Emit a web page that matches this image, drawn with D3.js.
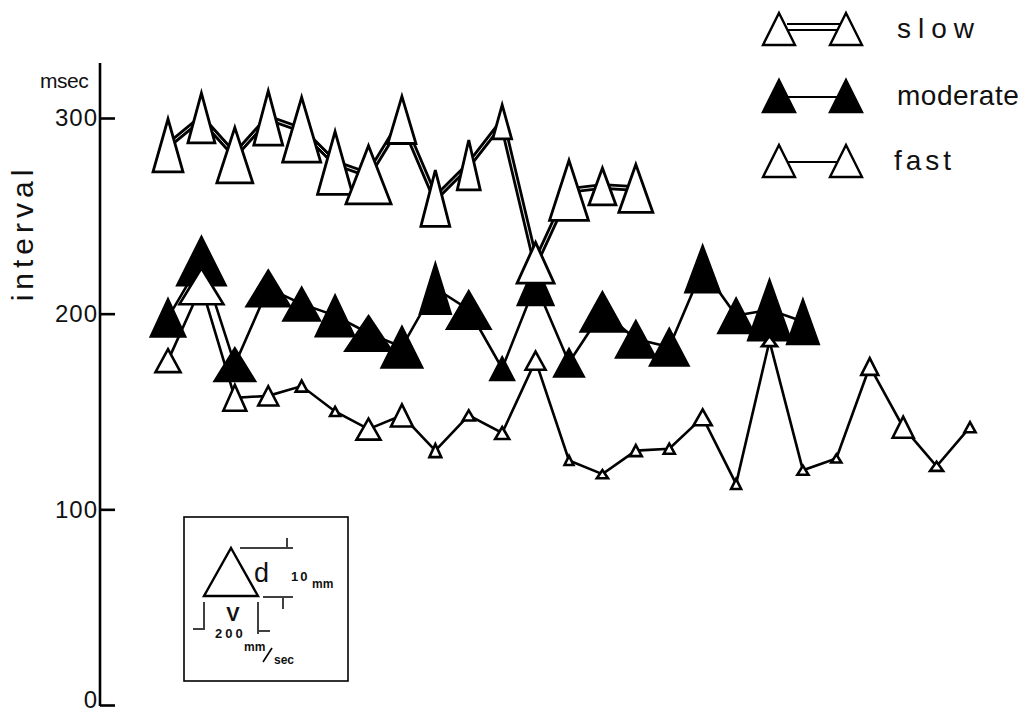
<!DOCTYPE html>
<html>
<head>
<meta charset="utf-8">
<script src="https://cdn.jsdelivr.net/npm/d3@7"></script>
<style>
  body { margin: 0; background: #fff; }
  text { font-family: "Liberation Sans", Arial, sans-serif; fill: #111; }
</style>
</head>
<body>
<script>
var w = 1031;
var h = 713;

/*
    Data. Each trial is a triangle: its centre gives the
    interval (msec), its height the depth d (mm) and its base the velocity v (mm/sec).
*/
var yTicks = [0, 100, 200, 300];

var slowInterval = [286, 300, 281, 300, 294, 277, 271, 299, 259, 276, 298, 226, 263, 265, 264];
var slowD = [11.0, 10.4, 11.5, 11.3, 13.5, 13.1, 12.1, 9.8, 11.7, 10.4, 7.1, 8.5, 12.5, 7.7, 10.0];
var slowV = [111, 100, 133, 107, 141, 130, 167, 104, 107, 85, 70, 137, 144, 100, 126];

var moderateInterval = [198, 227, 174, 213, 205, 199, 190, 183, 213, 202, 172, 215, 175, 201, 187, 183, 223, 199, 202, 196];
var moderateD = [8.1, 10.4, 7.1, 7.7, 7.1, 8.8, 7.5, 8.8, 10.8, 8.1, 5.0, 8.8, 6.0, 8.5, 7.9, 7.9, 10.0, 7.5, 12.9, 9.6];
var moderateV = [133, 185, 156, 167, 141, 148, 178, 156, 119, 167, 93, 137, 115, 167, 152, 148, 133, 137, 163, 122];

var fastInterval = [176, 214, 157, 158, 163, 150, 141, 148, 130, 148, 139, 176, 125, 118, 130, 131, 147, 113, 186, 120, 126, 173, 142, 122, 142];
var fastD = [4.8, 7.5, 5.4, 4.0, 2.3, 1.9, 4.4, 4.6, 2.7, 2.1, 2.5, 3.8, 1.9, 1.7, 2.3, 2.1, 3.3, 2.1, 2.1, 1.9, 1.7, 3.5, 4.4, 1.9, 2.1];
var fastV = [93, 163, 85, 74, 44, 37, 89, 81, 44, 44, 52, 74, 33, 41, 44, 41, 67, 37, 56, 41, 37, 63, 78, 48, 41];

var legendNames = ["slow", "moderate", "fast"];

function rows(interval, d, v) {
    return interval.map(function(val, i) {
        return {i: i, interval: val, d: d[i], v: v[i]};
    });
}
var slow = rows(slowInterval, slowD, slowV);
var moderate = rows(moderateInterval, moderateD, moderateV);
var fast = rows(fastInterval, fastD, fastV);

/* scales: trial index across, interval up; d and v set the triangle size */
var xScale = d3.scaleLinear().domain([0, 24]).range([168, 970]);
var yScale = d3.scaleLinear().domain([0, 300]).range([705, 118]);
var dScale = d3.scaleLinear().domain([0, 10]).range([0, 48]);
var vScale = d3.scaleLinear().domain([0, 200]).range([0, 54]);

function tri(cx, cy, th, tw) {
    return "M" + cx + "," + (cy - th / 2) +
        "L" + (cx + tw / 2) + "," + (cy + th / 2) +
        "L" + (cx - tw / 2) + "," + (cy + th / 2) + "Z";
}
function triOf(p) {
    return tri(xScale(p.i), yScale(p.interval), dScale(p.d), vScale(p.v));
}

var svg = d3.select("body").append("svg")
    .attr("width", w)
    .attr("height", h);

var line = d3.line()
    .x(function(p) { return xScale(p.i); })
    .y(function(p) { return yScale(p.interval); });

/* lines first, triangles on top */
svg.append("path").datum(moderate).attr("d", line)
    .attr("fill", "none").attr("stroke", "#000").attr("stroke-width", 2.6);
svg.append("path").datum(fast).attr("d", line)
    .attr("fill", "none").attr("stroke", "#000").attr("stroke-width", 2.6);
svg.append("path").datum(slow).attr("d", line)
    .attr("fill", "none").attr("stroke", "#000").attr("stroke-width", 6.5);
svg.append("path").datum(slow).attr("d", line)
    .attr("fill", "none").attr("stroke", "#fff").attr("stroke-width", 0.9);

svg.selectAll("path.mod").data(moderate).enter().append("path")
    .attr("class", "mod")
    .attr("d", triOf)
    .attr("fill", "#000")
    .attr("stroke", "#000").attr("stroke-width", 1.5);

svg.selectAll("path.fast").data(fast).enter().append("path")
    .attr("class", "fast")
    .attr("d", triOf)
    .attr("fill", "#fff")
    .attr("stroke", "#000").attr("stroke-width", 2.6);

svg.selectAll("path.slow").data(slow).enter().append("path")
    .attr("class", "slow")
    .attr("d", triOf)
    .attr("fill", "#fff")
    .attr("stroke", "#000").attr("stroke-width", 2.8);

/* y axis, ticks pointing into the plot */
var yAxis = d3.axisLeft(yScale)
    .tickValues(yTicks)
    .tickSizeInner(-15)
    .tickSizeOuter(0)
    .tickPadding(2);

var ax = svg.append("g")
    .attr("transform", "translate(100,0)")
    .call(yAxis);
ax.select(".domain").remove();
ax.selectAll(".tick line").attr("stroke", "#000").attr("stroke-width", 2.6);
ax.selectAll(".tick text")
    .style("font-family", "Liberation Sans, Arial, sans-serif")
    .style("font-size", "24px")
    .style("letter-spacing", "1px")
    .attr("fill", "#111");
// the 0 label sits at the bottom edge; lift it a little so it stays whole
ax.selectAll(".tick text").filter(function(d) { return d === 0; })
    .attr("y", -5);
ax.append("line")
    .attr("x1", 0).attr("x2", 0)
    .attr("y1", 63).attr("y2", yScale(0) + 1)
    .attr("stroke", "#000").attr("stroke-width", 2.6);

svg.append("text")
    .attr("x", 40).attr("y", 88)
    .style("font-size", "21px")
    .style("letter-spacing", "-0.5px")
    .text("msec");

svg.append("text")
    .attr("transform", "translate(33,233) rotate(-90)")
    .attr("text-anchor", "middle")
    .style("font-size", "30px")
    .style("letter-spacing", "5px")
    .text("interval");

/* legend, top right */
var legY = [29, 96, 161];
var leg = svg.append("g");
legendNames.forEach(function(name, k) {
    var y = legY[k];
    if (k === 0) {
        leg.append("line").attr("x1", 787).attr("x2", 843).attr("y1", y - 5).attr("y2", y - 5)
            .attr("stroke", "#000").attr("stroke-width", 2);
        leg.append("line").attr("x1", 787).attr("x2", 843).attr("y1", y + 1).attr("y2", y + 1)
            .attr("stroke", "#000").attr("stroke-width", 2);
    } else {
        leg.append("line").attr("x1", 787).attr("x2", 843).attr("y1", y + 1).attr("y2", y + 1)
            .attr("stroke", "#000").attr("stroke-width", 2);
    }
    [779, 846].forEach(function(cx) {
        leg.append("path")
            .attr("d", tri(cx, y, 32, 32))
            .attr("fill", k === 1 ? "#000" : "#fff")
            .attr("stroke", "#000").attr("stroke-width", 2.4);
    });
    leg.append("text")
        .attr("x", k === 2 ? 894 : 897).attr("y", y + 9)
        .style("font-size", "28px")
        .style("letter-spacing", k === 0 ? "7px" : (k === 1 ? "0.5px" : "4px"))
        .text(name);
});

/* inset key: triangle height d = 10 mm, base v = 200 mm/sec */
var key = svg.append("g");
key.append("rect")
    .attr("x", 184).attr("y", 517).attr("width", 164).attr("height", 164)
    .attr("fill", "none").attr("stroke", "#000").attr("stroke-width", 1.6);
key.append("path")
    .attr("d", tri(231, 572, dScale(10), vScale(200)))
    .attr("fill", "#fff").attr("stroke", "#000").attr("stroke-width", 2.4);
key.append("line").attr("x1", 240).attr("x2", 293).attr("y1", 548).attr("y2", 548)
    .attr("stroke", "#000").attr("stroke-width", 1.5);
key.append("line").attr("x1", 287).attr("x2", 287).attr("y1", 538).attr("y2", 547)
    .attr("stroke", "#000").attr("stroke-width", 1.5);
key.append("line").attr("x1", 263).attr("x2", 293).attr("y1", 597).attr("y2", 597)
    .attr("stroke", "#000").attr("stroke-width", 1.5);
key.append("line").attr("x1", 283).attr("x2", 283).attr("y1", 598).attr("y2", 609)
    .attr("stroke", "#000").attr("stroke-width", 1.5);
key.append("line").attr("x1", 204).attr("x2", 204).attr("y1", 602).attr("y2", 630)
    .attr("stroke", "#000").attr("stroke-width", 1.5);
key.append("line").attr("x1", 258).attr("x2", 258).attr("y1", 602).attr("y2", 634)
    .attr("stroke", "#000").attr("stroke-width", 1.5);
key.append("line").attr("x1", 193).attr("x2", 203).attr("y1", 629).attr("y2", 629)
    .attr("stroke", "#000").attr("stroke-width", 1.5);
key.append("line").attr("x1", 259).attr("x2", 270).attr("y1", 631).attr("y2", 631)
    .attr("stroke", "#000").attr("stroke-width", 1.5);
key.append("line").attr("x1", 263).attr("x2", 272).attr("y1", 662).attr("y2", 648)
    .attr("stroke", "#000").attr("stroke-width", 1.6);
key.append("text").attr("x", 254).attr("y", 582)
    .style("font-size", "27px").text("d");
key.append("text").attr("x", 291).attr("y", 581)
    .style("font-size", "13px").style("font-weight", "bold").style("letter-spacing", "2px").text("10");
key.append("text").attr("x", 312).attr("y", 588)
    .style("font-size", "12px").style("font-weight", "bold").text("mm");
key.append("text").attr("x", 233).attr("y", 621).attr("text-anchor", "middle")
    .style("font-size", "20px").style("font-weight", "bold").text("V");
key.append("text").attr("x", 215).attr("y", 638)
    .style("font-size", "13px").style("font-weight", "bold").style("letter-spacing", "3px").text("200");
key.append("text").attr("x", 244).attr("y", 651)
    .style("font-size", "12px").style("font-weight", "bold").text("mm");
key.append("text").attr("x", 274).attr("y", 664)
    .style("font-size", "12px").style("font-weight", "bold").text("sec");
</script>
</body>
</html>
